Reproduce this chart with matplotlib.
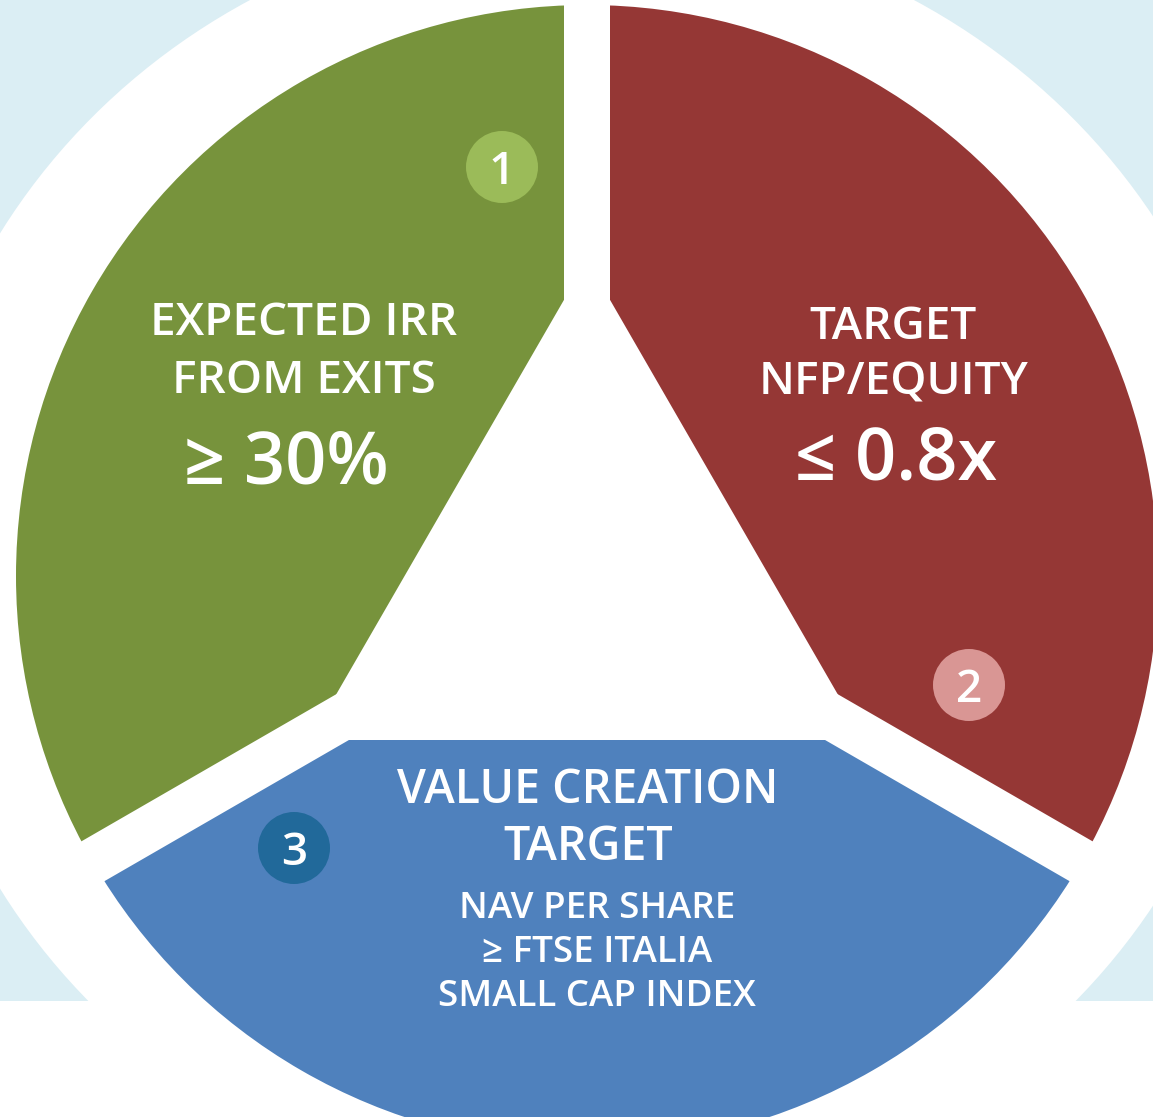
import numpy as np
import matplotlib
matplotlib.use("Agg")
import matplotlib.pyplot as plt
from matplotlib.patches import Wedge, Polygon, RegularPolygon, Circle, Ellipse, Rectangle

# ---- data ----
segment_names = ["Expected IRR", "Target NFP/Equity", "Value creation target"]
segment_shares = [1, 1, 1]
segment_numbers = ["1", "2", "3"]
segment_colors = ["#77933C", "#953735", "#4F81BD"]
badge_colors = ["#9BBB59", "#D99694", "#21699A"]
title_lines = [["EXPECTED IRR", "FROM EXITS"],
               ["TARGET", "NFP/EQUITY"],
               ["VALUE CREATION", "TARGET"]]
value_lines = [["≥ 30%"], ["≤ 0.8x"],
               ["NAV PER SHARE", "≥ FTSE ITALIA", "SMALL CAP INDEX"]]

W, H = 1153, 1117
plt.rcParams['font.family'] = ['Open Sans', 'DejaVu Sans']

fig = plt.figure(figsize=(W / 100, H / 100), dpi=100)
ax = fig.add_axes([0, 0, 1, 1])
ax.set_xlim(0, W)
ax.set_ylim(0, H)
ax.set_aspect('equal')
ax.axis('off')


def P(x, y):
    return (x, H - y)


# background
ax.add_patch(Rectangle(P(0, 1001), W, 1001, color="#DBEEF4", zorder=0, lw=0))
ax.add_patch(Ellipse(P(582, 561), 2 * 676, 2 * 644, color="white", zorder=1, lw=0))

# pie wedges
cx, cy = P(587, 576)
R = 571
start = 210.0
total = sum(segment_shares)
bounds = []
for i, s in enumerate(segment_shares):
    sweep = 360.0 * s / total
    t2 = start
    t1 = start - sweep
    ax.add_patch(Wedge((cx, cy), R, t1, t2, color=segment_colors[i], zorder=2, lw=0))
    bounds.append(t2)
    start = t1

# gaps
half = 23
L = 620
for ang in bounds:
    a = np.deg2rad(ang)
    d = np.array([np.cos(a), np.sin(a)])
    n = np.array([-d[1], d[0]])
    c = np.array([cx, cy])
    pts = [c + n * half, c + n * half + d * L, c - n * half + d * L, c - n * half]
    ax.add_patch(Polygon(pts, closed=True, color="white", zorder=3, lw=0))

# inner triangle
ax.add_patch(RegularPolygon(P(587, 580), numVertices=3, radius=320, orientation=0,
                            color="white", zorder=3, lw=0))

FW = 'semibold'

# badges
badge_pos = [(502, 167), (969, 685), (294, 848)]
for (bx, by), num, col in zip(badge_pos, segment_numbers, badge_colors):
    ax.add_patch(Circle(P(bx, by), 36, color=col, zorder=4, lw=0))
    ax.text(*P(bx, by + 17), num, color="white", fontsize=33, fontweight=FW,
            ha='center', va='baseline', zorder=5)


def T(x, y, s, size):
    ax.text(*P(x, y), s, color="white", fontsize=size, fontweight=FW,
            ha='center', va='baseline', zorder=5)


# green
T(304, 335, title_lines[0][0], 33)
T(304, 393, title_lines[0][1], 33)
T(286, 483, value_lines[0][0], 52)
# red
T(893, 339, title_lines[1][0], 33)
T(894, 395, title_lines[1][1], 33)
T(896, 480, value_lines[1][0], 52)
# blue
T(588, 803, title_lines[2][0], 33.5)
T(588, 860, title_lines[2][1], 33.5)
for txt, yb in zip(value_lines[2], [918, 962, 1006]):
    T(597, yb, txt, 26.5)

fig.savefig("out.png", dpi=100)
